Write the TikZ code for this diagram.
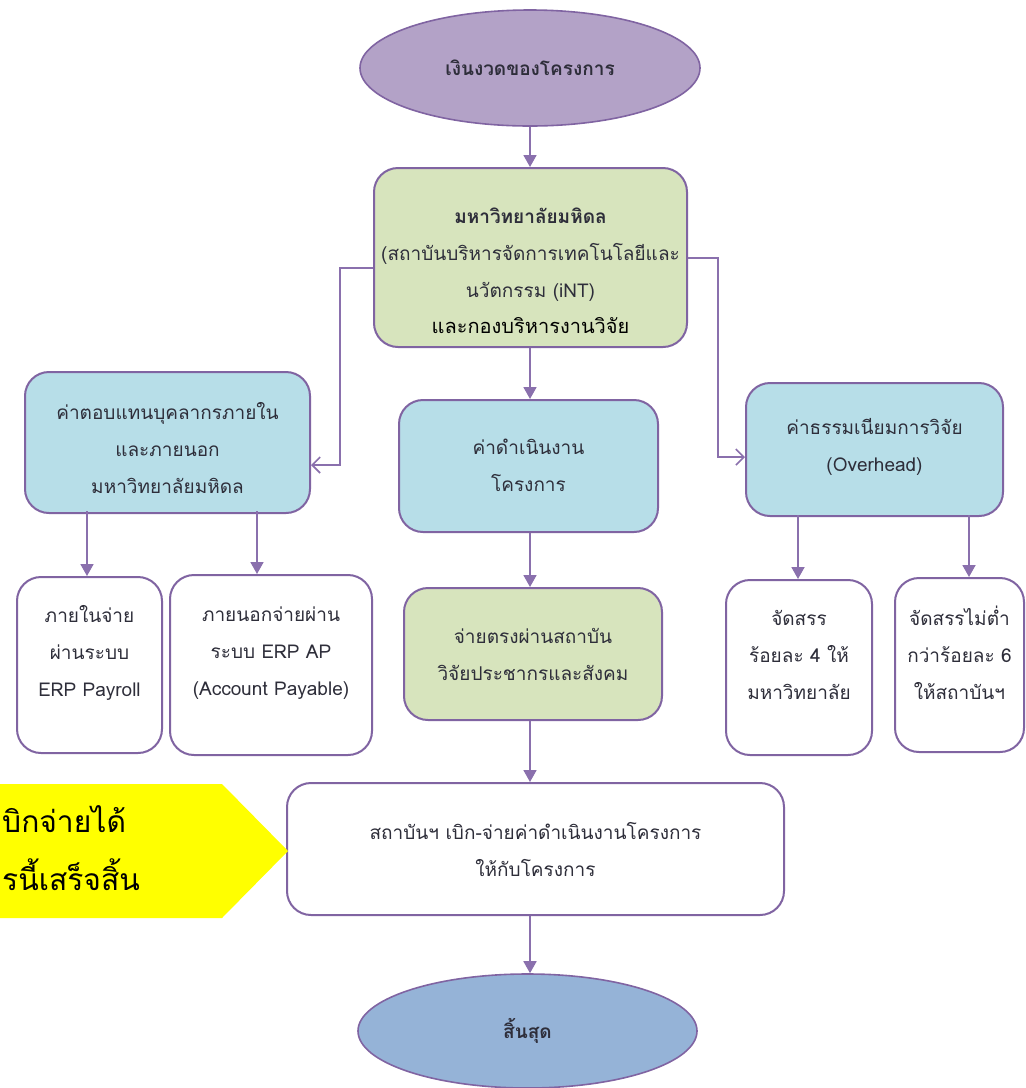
\documentclass[tikz,border=0pt]{standalone}
\usepackage{fontspec}
\setmainfont[Script=Thai]{Loma}
\newfontfamily\thaifont[Script=Thai]{Loma}
\usetikzlibrary{arrows.meta,shapes.geometric}
\definecolor{bord}{HTML}{8064A2}
\definecolor{arr}{HTML}{8A70AD}
\definecolor{topfill}{HTML}{B3A2C7}
\definecolor{grnfill}{HTML}{D7E4BD}
\definecolor{bluefill}{HTML}{B7DEE8}
\definecolor{endfill}{HTML}{95B3D7}
\definecolor{txt}{HTML}{2E2E3A}
\definecolor{callout}{HTML}{FFFF00}
\tikzset{
  base/.style={draw=bord, line width=2pt, rounded corners=24pt, inner sep=0pt},
  greenbox/.style={base, fill=grnfill},
  bluebox/.style={base, fill=bluefill},
  whitebox/.style={base, fill=white},
  oval/.style={ellipse, draw=bord, line width=1.6pt, inner sep=0pt},
  boxtext/.style={align=center, text=txt, font=\thaifont\fontsize{19}{37}\selectfont, inner sep=0pt},
  flow/.style={draw=arr, line width=1.8pt, -{Triangle[width=13pt,length=12pt]}},
  side/.style={draw=arr, line width=1.6pt, -{Straight Barb[width=16pt,length=8pt,line width=1.6pt]}},
  bigtext/.style={text=black, font=\thaifont\fontsize{30}{35}\selectfont, inner sep=0pt}
}
\begin{document}
\begin{tikzpicture}[x=1pt,y=-1pt]
\useasboundingbox (0,0) rectangle (1026,1088);
\clip (0,0) rectangle (1026,1088);
\fill[white] (0,0) rectangle (1026,1088);

% ovals
\node[oval, fill=topfill, minimum width=340pt, minimum height=116pt] (start) at (530,68) {};
\node[boxtext] (startt) at (530,68) {\textbf{เงินงวดของโครงการ}};

% top green box
\node[greenbox, minimum width=313pt, minimum height=179pt] (uni) at (530.5,257.5) {};
\node[boxtext] (unit) at (530.5,255) {\textbf{มหาวิทยาลัยมหิดล}\\(สถาบันบริหารจัดการเทคโนโลยีและ\\นวัตกรรม (iNT)};
\node[text=black, font=\thaifont\fontsize{20}{26}\selectfont, inner sep=0pt] (unit2) at (530.5,326) {และกองบริหารงานวิจัย};

% blue boxes
\node[bluebox, minimum width=285pt, minimum height=141pt] (lb) at (167.5,442.5) {};
\node[boxtext] (lbt) at (167.5,448) {ค่าตอบแทนบุคลากรภายใน\\และภายนอก\\มหาวิทยาลัยมหิดล};
\node[bluebox, minimum width=259pt, minimum height=132pt] (mb) at (528.5,466) {};
\node[boxtext] (mbt) at (528.5,465) {ค่าดำเนินงาน\\โครงการ};
\node[bluebox, minimum width=257pt, minimum height=133pt] (rb) at (874.5,449.5) {};
\node[boxtext] (rbt) at (874.5,447) {ค่าธรรมเนียมการวิจัย\\(Overhead)};

% lower row
\node[whitebox, minimum width=145pt, minimum height=176pt] (b1) at (89.5,665) {};
\node[boxtext] (b1t) at (89.5,653) {ภายในจ่าย\\ผ่านระบบ\\ERP Payroll};
\node[whitebox, minimum width=202pt, minimum height=180pt] (b2) at (271,665) {};
\node[boxtext] (b2t) at (271,653) {ภายนอกจ่ายผ่าน\\ระบบ ERP AP\\(Account Payable)};
\node[greenbox, minimum width=258pt, minimum height=132pt] (mg) at (533,654) {};
\node[boxtext] (mgt) at (533,654) {จ่ายตรงผ่านสถาบัน\\วิจัยประชากรและสังคม};
\node[whitebox, minimum width=146pt, minimum height=175pt] (r1) at (799,667.5) {};
\node[boxtext] (r1t) at (799,655) {จัดสรร\\ร้อยละ 4 ให้\\มหาวิทยาลัย};
\node[whitebox, minimum width=129pt, minimum height=174pt] (r2) at (959.5,665) {};
\node[boxtext] (r2t) at (959.5,653) {จัดสรรไม่ต่ำ\\กว่าร้อยละ 6\\ให้สถาบันฯ};

% white box
\node[whitebox, minimum width=497pt, minimum height=132pt] (wb) at (535.5,849) {};
\node[boxtext] (wbt) at (535.5,849) {สถาบันฯ เบิก-จ่ายค่าดำเนินงานโครงการ\\ให้กับโครงการ};

% end oval
\node[oval, fill=endfill, minimum width=339pt, minimum height=114pt] (stop) at (527.5,1031) {};
\node[boxtext] (stopt) at (527.5,1031) {\textbf{สิ้นสุด}};

% callout
\fill[callout] (0,784) -- (222,784) -- (288,851) -- (222,918) -- (0,918) -- cycle;
\node[bigtext, anchor=base west] (c1) at (2,832) {บิกจ่ายได้};
\node[bigtext, anchor=base west] (c2) at (2,890) {รนี้เสร็จสิ้น};

% coordinates
\coordinate (ax) at (530,0);
\coordinate (lk) at (340,268);
\coordinate (lk2) at (340,465);
\coordinate (rk) at (718,258);
\coordinate (rk2) at (718,457);
\coordinate (x1) at (87,0);
\coordinate (x2) at (257,0);
\coordinate (x3) at (798,0);
\coordinate (x4) at (969,0);

% connectors
\draw[flow] (start.south -| ax) -- (uni.north -| ax);
\draw[flow] (uni.south -| ax) -- (mb.north -| ax);
\draw[side] (uni.west |- lk) -- (lk) -- (lk2) -- (lb.east |- lk2);
\draw[side] (uni.east |- rk) -- (rk) -- (rk2) -- (rb.west |- rk2);
\draw[flow] ([yshift=3pt]lb.south -| x1) -- (b1.north -| x1);
\draw[flow] ([yshift=3pt]lb.south -| x2) -- (b2.north -| x2);
\draw[flow] ([yshift=2pt]rb.south -| x3) -- (r1.north -| x3);
\draw[flow] ([yshift=2pt]rb.south -| x4) -- (r2.north -| x4);
\draw[flow] (mb.south -| ax) -- (mg.north -| ax);
\draw[flow] (mg.south -| ax) -- (wb.north -| ax);
\draw[flow] (wb.south -| ax) -- (stop.north -| ax);
\end{tikzpicture}
\end{document}
